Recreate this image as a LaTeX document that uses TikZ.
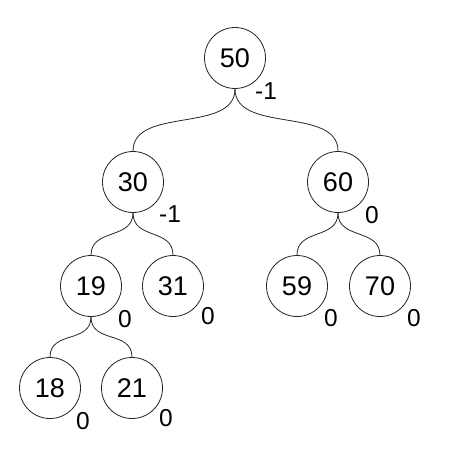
\documentclass[tikz,border=0pt]{standalone}
\usepackage{fontspec}
\setmainfont{Liberation Sans}
\begin{document}
\begin{tikzpicture}[x=1pt,y=-1pt,
  nd/.style={circle,draw=black!85,line width=0.8pt,minimum size=61pt,inner sep=0pt,font=\fontsize{27}{27}\selectfont},
  bal/.style={font=\fontsize{24.5}{24.5}\selectfont,inner sep=0pt},
  link/.style={draw=black!85,line width=0.8pt}]
\useasboundingbox (0,0) rectangle (451,460);
\node[nd] (n50) at (235,58) {50};
\node[nd] (n30) at (133,182) {30};
\node[nd] (n60) at (338,182) {60};
\node[nd] (n19) at (91,286) {19};
\node[nd] (n31) at (173,286) {31};
\node[nd] (n59) at (297,286) {59};
\node[nd] (n70) at (380,286) {70};
\node[nd] (n18) at (50,388) {18};
\node[nd] (n21) at (132,388) {21};
\node[bal] (b50) at (266,91) {-1};
\node[bal] (b30) at (170,214) {-1};
\node[bal] (b60) at (372,215) {0};
\node[bal] (b19) at (125,319) {0};
\node[bal] (b31) at (208,316) {0};
\node[bal] (b59) at (331,318) {0};
\node[bal] (b70) at (414,318) {0};
\node[bal] (b18) at (83,421) {0};
\node[bal] (b21) at (166,418) {0};
\draw[link] (n50.south) .. controls +(0,45) and +(0,-45) .. (n30.north);
\draw[link] (n50.south) .. controls +(0,45) and +(0,-45) .. (n60.north);
\draw[link] (n30.south) .. controls +(0,27) and +(0,-27) .. (n19.north);
\draw[link] (n30.south) .. controls +(0,27) and +(0,-27) .. (n31.north);
\draw[link] (n60.south) .. controls +(0,27) and +(0,-27) .. (n59.north);
\draw[link] (n60.south) .. controls +(0,27) and +(0,-27) .. (n70.north);
\draw[link] (n19.south) .. controls +(0,27) and +(0,-27) .. (n18.north);
\draw[link] (n19.south) .. controls +(0,27) and +(0,-27) .. (n21.north);
\end{tikzpicture}
\end{document}
